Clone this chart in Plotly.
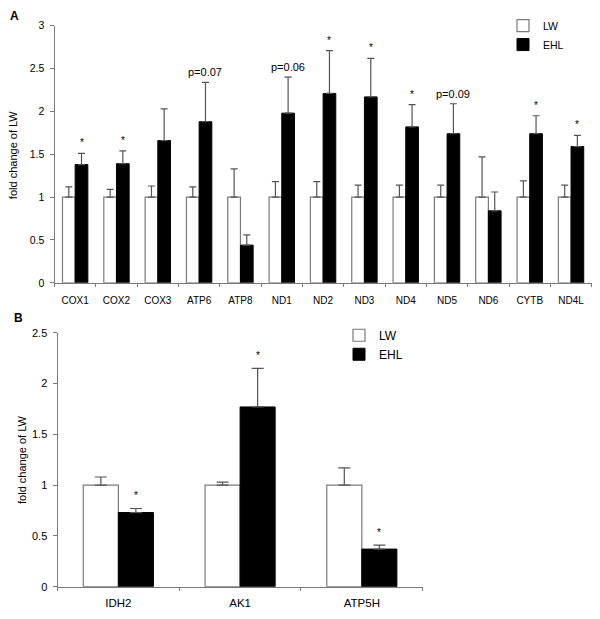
import plotly.graph_objects as go

# ---------------- Data ----------------
genes_a = ["COX1", "COX2", "COX3", "ATP6", "ATP8", "ND1", "ND2", "ND3", "ND4", "ND5", "ND6", "CYTB", "ND4L"]
lw_a = [1, 1, 1, 1, 1, 1, 1, 1, 1, 1, 1, 1, 1]
lw_a_err = [0.12, 0.09, 0.13, 0.12, 0.33, 0.18, 0.18, 0.14, 0.14, 0.14, 0.47, 0.19, 0.14]
ehl_a = [1.38, 1.39, 1.66, 1.88, 0.44, 1.98, 2.21, 2.17, 1.82, 1.74, 0.84, 1.74, 1.59]
ehl_a_err = [0.13, 0.15, 0.37, 0.46, 0.12, 0.42, 0.50, 0.45, 0.26, 0.35, 0.22, 0.21, 0.13]
sig_a = ["*", "*", "", "p=0.07", "", "p=0.06", "*", "*", "*", "p=0.09", "", "*", "*"]

genes_b = ["IDH2", "AK1", "ATP5H"]
lw_b = [1, 1, 1]
lw_b_err = [0.08, 0.03, 0.17]
ehl_b = [0.73, 1.77, 0.37]
ehl_b_err = [0.04, 0.38, 0.04]
sig_b = ["*", "*", "*"]

FONT = "Liberation Sans, Arial, sans-serif"
GRAY = "#7a7a7a"
ERR = "#555555"

# page has an 8px body margin; the figure is sized to fit inside the window
W, H, OFF = 592, 603, 8


def px(x):
    return (x - OFF) / W


def py(y):
    return 1 - (y - OFF) / H


fig = go.Figure()

wa = 0.307
wb = 0.288


def add_pair(genes, lw, lwe, ehl, ehle, w, cap, xa, ya, leg):
    fig.add_trace(go.Bar(
        x=genes, y=lw, name="LW", width=w, offset=-w,
        marker=dict(color="white", line=dict(color=GRAY, width=1.2)),
        error_y=dict(type="data", array=lwe, arrayminus=[0] * len(lwe), symmetric=False,
                     color=ERR, thickness=1.2, width=cap),
        xaxis=xa, yaxis=ya, legend=leg))
    fig.add_trace(go.Bar(
        x=genes, y=ehl, name="EHL", width=w, offset=0,
        marker=dict(color="black", line=dict(color="black", width=1)),
        error_y=dict(type="data", array=ehle, arrayminus=[0] * len(ehle), symmetric=False,
                     color=ERR, thickness=1.2, width=cap),
        xaxis=xa, yaxis=ya, legend=leg))


add_pair(genes_a, lw_a, lw_a_err, ehl_a, ehl_a_err, wa, 3.5, "x", "y", "legend")
add_pair(genes_b, lw_b, lw_b_err, ehl_b, ehl_b_err, wb, 6, "x2", "y2", "legend2")

annotations = []
for i, s in enumerate(sig_a):
    if s:
        annotations.append(dict(
            x=i + wa / 2, y=ehl_a[i] + ehl_a_err[i], xref="x", yref="y",
            text=s, showarrow=False, yanchor="bottom",
            yshift=3 if s == "*" else 2,
            font=dict(family=FONT, size=10 if s == "*" else 11, color="black")))
for i, s in enumerate(sig_b):
    annotations.append(dict(
        x=i + wb / 2, y=ehl_b[i] + ehl_b_err[i], xref="x2", yref="y2",
        text=s, showarrow=False, yanchor="bottom", yshift=5,
        font=dict(family=FONT, size=10, color="black")))

# panel letters and y titles
annotations += [
    dict(x=px(8), y=py(10), xref="paper", yref="paper", text="<b>A</b>",
         showarrow=False, xanchor="left", yanchor="middle",
         font=dict(family=FONT, size=12, color="black")),
    dict(x=px(12), y=py(318), xref="paper", yref="paper", text="<b>B</b>",
         showarrow=False, xanchor="left", yanchor="middle",
         font=dict(family=FONT, size=12, color="black")),
    dict(x=px(13), y=py(152), xref="paper", yref="paper", text="fold change of LW",
         textangle=-90, showarrow=False, xanchor="center", yanchor="middle",
         font=dict(family=FONT, size=11, color="black")),
    dict(x=px(22), y=py(463), xref="paper", yref="paper", text="fold change of LW",
         textangle=-90, showarrow=False, xanchor="center", yanchor="middle",
         font=dict(family=FONT, size=11, color="black")),
]


def axis(size, **kw):
    d = dict(showline=True, linecolor=GRAY, linewidth=1, showgrid=False, zeroline=False,
             ticks="outside", ticklen=4, tickcolor=GRAY,
             tickfont=dict(family=FONT, size=size, color="black"))
    d.update(kw)
    return d


fig.update_layout(
    width=W, height=H,
    margin=dict(l=0, r=0, t=0, b=0),
    paper_bgcolor="white", plot_bgcolor="white",
    barmode="overlay",
    font=dict(family=FONT, size=11, color="black"),
    xaxis=axis(10, domain=[px(54.5), px(591.7)], anchor="y", type="category",
               tickson="boundaries", ticklen=3, ticklabelstandoff=8),
    yaxis=axis(10.5, domain=[py(282.3), py(20)], anchor="x", range=[0, 3],
               dtick=0.5, ticklabelstandoff=3),
    xaxis2=axis(11.5, domain=[px(57.5), px(422.7)], anchor="y2", type="category",
                tickson="boundaries", ticklen=3, ticklabelstandoff=6),
    yaxis2=axis(11, domain=[py(592.3), py(333.3)], anchor="x2", range=[0, 2.5],
                dtick=0.5, ticklabelstandoff=3),
    legend=dict(x=px(503), y=py(5), xanchor="left", yanchor="top",
                bgcolor="rgba(0,0,0,0)", itemwidth=30,
                font=dict(family=FONT, size=10.5, color="black"), tracegroupgap=0),
    legend2=dict(x=px(339), y=py(321), xanchor="left", yanchor="top",
                 bgcolor="rgba(0,0,0,0)", itemwidth=30,
                 font=dict(family=FONT, size=12, color="black"), tracegroupgap=0),
    annotations=annotations,
    showlegend=True,
)

fig.write_html("out.html")
